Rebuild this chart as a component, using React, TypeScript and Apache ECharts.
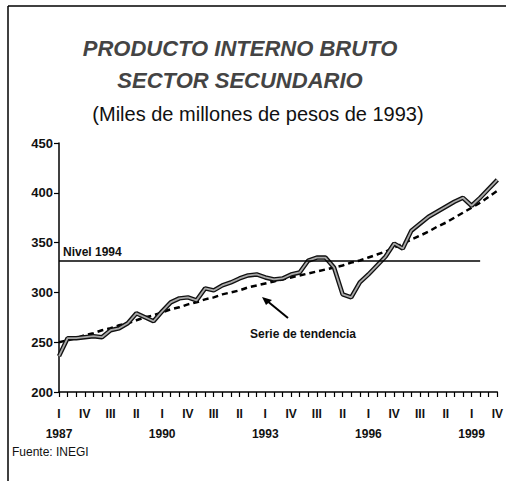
import React, { useEffect, useRef } from "react";
import * as echarts from "echarts";

const years = [1987, 1988, 1989, 1990, 1991, 1992, 1993, 1994, 1995, 1996, 1997, 1998, 1999];
const quarters = ["I", "II", "III", "IV"];
const categories = years.flatMap((y) => quarters.map((q) => `${y} ${q}`));

const actual = [
  236, 254, 254, 255, 256, 255, 262, 264, 269, 279, 275, 271,
  281, 290, 294, 295, 292, 304, 302, 307, 310, 314, 317, 318,
  315, 313, 314, 318, 320, 332, 335, 335, 325, 298, 295, 310,
  318, 327, 336, 349, 344, 362, 369, 376, 381, 386, 391, 395,
  387, 395, 404, 413,
];

const trend = [
  250, 252, 254, 257, 259, 262, 264, 267, 269, 272, 275, 277,
  280, 283, 285, 288, 290, 293, 295, 298, 300, 302, 305, 307,
  309, 311, 313, 315, 317, 319, 321, 323, 325, 327, 330, 332,
  335, 338, 341, 345, 349, 353, 357, 361, 366, 370, 375, 380,
  385, 390, 396, 402,
];

const nivel1994 = 332;
const yMin = 200;
const yMax = 450;
const yStep = 50;

const titleLines = ["PRODUCTO INTERNO BRUTO", "SECTOR SECUNDARIO"];
const subtitle = "(Miles de millones de pesos de 1993)";
const source = "Fuente: INEGI";
const nivelLabel = "Nivel 1994";
const trendLabel = "Serie de tendencia";

const FONT = "Liberation Sans, Arial, sans-serif";

export default function App() {
  const ref = useRef<HTMLDivElement>(null);
  useEffect(() => {
    document.body.style.margin = "0";
    const chart = echarts.init(ref.current!, null, { renderer: "svg" });
    chart.setOption({
      animation: false,
      backgroundColor: "#ffffff",
      textStyle: { fontFamily: FONT },
      grid: { left: 59, right: 8, top: 143, bottom: 89 },
      xAxis: {
        type: "category",
        data: categories,
        boundaryGap: false,
        axisLine: { lineStyle: { color: "#000", width: 1.5 } },
        axisTick: { show: true, interval: 0, length: 5, lineStyle: { color: "#000", width: 1.2 } },
        axisLabel: {
          interval: 2,
          margin: 12,
          formatter: (v: string) => {
            const [y, q] = v.split(" ");
            const yi = years.indexOf(Number(y));
            if (q === "I" && yi % 3 === 0) return `{q|${q}}\n{y|${y}}`;
            return `{q|${q}}`;
          },
          rich: {
            q: { fontFamily: FONT, fontSize: 12, fontWeight: "bold", color: "#111", lineHeight: 20 },
            y: { fontFamily: FONT, fontSize: 12, fontWeight: "bold", color: "#111", lineHeight: 20 },
          },
        },
        splitLine: { show: false },
      },
      yAxis: {
        type: "value",
        min: yMin,
        max: yMax,
        interval: yStep,
        axisLine: { show: true, lineStyle: { color: "#000", width: 1.5 } },
        axisTick: { show: true, length: 5, lineStyle: { color: "#000", width: 1.2 } },
        axisLabel: { fontFamily: FONT, fontSize: 13, fontWeight: "bold", color: "#111", margin: 6 },
        splitLine: { show: false },
      },
      series: [
        {
          type: "line",
          data: trend,
          symbol: "none",
          lineStyle: { color: "#000", width: 2.5, type: [6, 4] },
          z: 2,
          markLine: {
            silent: true,
            symbol: "none",
            label: { show: false },
            lineStyle: { color: "#000", width: 1.5, type: "solid" },
            data: [[
              { coord: [categories[0], nivel1994] },
              { coord: [categories[49], nivel1994] },
            ]],
          },
        },
        {
          type: "line",
          data: actual,
          symbol: "none",
          lineStyle: { color: "#111", width: 4.5 },
          z: 3,
        },
        {
          type: "line",
          data: actual,
          symbol: "none",
          lineStyle: { color: "#a8a8a8", width: 1.8 },
          z: 4,
        },
      ],
      graphic: [
        { type: "line", shape: { x1: 8, y1: 6, x2: 506, y2: 6 }, style: { stroke: "#000", lineWidth: 1.5 } },
        { type: "line", shape: { x1: 8, y1: 6, x2: 8, y2: 481 }, style: { stroke: "#000", lineWidth: 1.5 } },
        {
          type: "text", x: 240, y: 48,
          style: { text: titleLines[0], fontFamily: FONT, fontSize: 22, fontWeight: "bold", fontStyle: "italic", fill: "#444", align: "center", verticalAlign: "middle" },
        },
        {
          type: "text", x: 240, y: 80,
          style: { text: titleLines[1], fontFamily: FONT, fontSize: 22, fontWeight: "bold", fontStyle: "italic", fill: "#444", align: "center", verticalAlign: "middle" },
        },
        {
          type: "text", x: 258, y: 114,
          style: { text: subtitle, fontFamily: FONT, fontSize: 20, fill: "#111", align: "center", verticalAlign: "middle" },
        },
        {
          type: "text", x: 63, y: 252,
          style: { text: nivelLabel, fontFamily: FONT, fontSize: 12, fontWeight: "bold", fill: "#111", align: "left", verticalAlign: "middle" },
        },
        {
          type: "text", x: 250, y: 334,
          style: { text: trendLabel, fontFamily: FONT, fontSize: 12, fontWeight: "bold", fill: "#111", align: "left", verticalAlign: "middle" },
        },
        { type: "line", shape: { x1: 288, y1: 318, x2: 266, y2: 300 }, style: { stroke: "#000", lineWidth: 2 } },
        { type: "polygon", shape: { points: [[262, 297], [272, 300], [266, 305]] }, style: { fill: "#000" } },
        {
          type: "text", x: 12, y: 452,
          style: { text: source, fontFamily: FONT, fontSize: 12, fill: "#111", align: "left", verticalAlign: "middle" },
        },
      ],
    });
    return () => chart.dispose();
  }, []);
  return <div ref={ref} style={{ width: 506, height: 481 }} />;
}
